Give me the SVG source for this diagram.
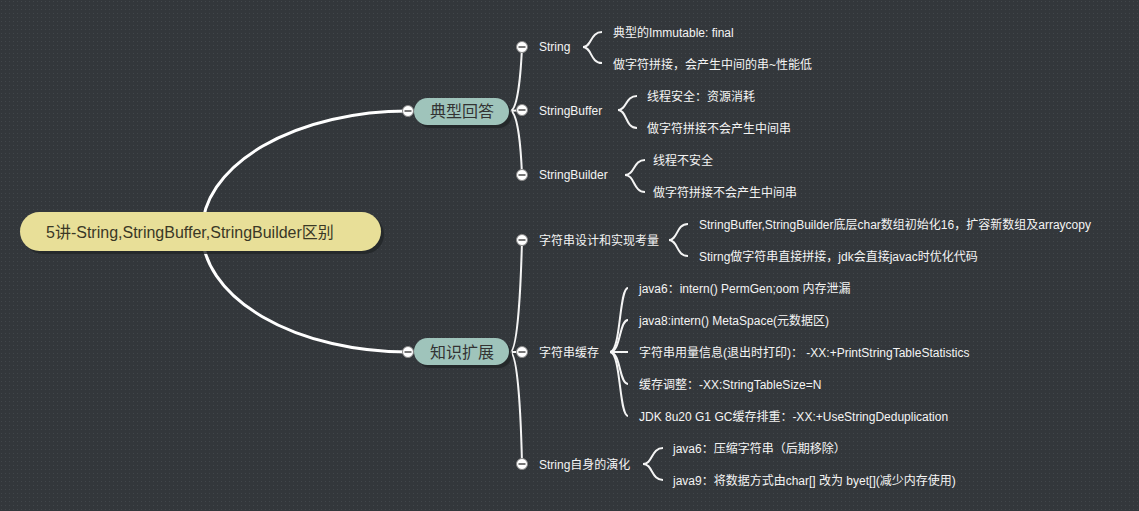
<svg xmlns="http://www.w3.org/2000/svg" width="1139" height="511" viewBox="0 0 1139 511">
<defs>
<pattern id="dots" width="4" height="4" patternUnits="userSpaceOnUse">
<rect width="4" height="4" fill="#33373b"/>
<rect x="1" y="1" width="1" height="1" fill="#41464a"/>
</pattern>
<g id="col">
<circle r="5.5" fill="#ffffff" stroke="#8a8a8a" stroke-width="1"/>
<line x1="-3.5" y1="0" x2="3.5" y2="0" stroke="#555" stroke-width="1.6"/>
</g>
</defs>
<style>
text{font-family:"Liberation Sans","Noto Sans CJK SC",sans-serif;}
.root{font-size:16px;fill:#3a3826;}
.l1{font-size:16px;fill:#333;text-anchor:middle;}
.lb{font-size:12px;fill:#f4f4f4;}
.main{fill:none;stroke:#ffffff;stroke-width:3;}
.br{fill:none;stroke:#f4f4f4;stroke-width:2;}
.sh{fill:#222528;opacity:0.8;}
</style>
<rect width="1139" height="511" fill="url(#dots)"/>

<g id="connectors">
<path class="main" d="M408 111 A206 120.5 0 0 0 202 231.5 A206 120.5 0 0 0 408 352"/>
<path class="br" d="M510 111 C518 111 521 70 522 47"/>
<path class="br" d="M510 111 L522 110"/>
<path class="br" d="M510 111 C518 111 521 150 522 175"/>
<path class="br" d="M510 352 C518 352 521 280 522 240"/>
<path class="br" d="M510 352 L522 352"/>
<path class="br" d="M510 352 C518 352 521 420 522 464"/>
<path class="br" d="M602 32 C590 32 592 47 583 47 C592 47 590 63 602 63"/>
<path class="br" d="M637 96 C625 96 627 110 618 110 C627 110 625 128 637 128"/>
<path class="br" d="M645 160 C633 160 635 175 625 175 C635 175 633 192 645 192"/>
<path class="br" d="M688 224 C676 224 678 240 669 240 C678 240 676 256 688 256"/>
<path class="br" d="M663 448 C651 448 653 464 643 464 C653 464 651 480 663 480"/>
<path class="br" d="M610 352 C621 352 619 288 628 288"/>
<path class="br" d="M610 352 C621 352 619 320 628 320"/>
<path class="br" d="M610 352 L628 352"/>
<path class="br" d="M610 352 C621 352 619 384 628 384"/>
<path class="br" d="M610 352 C621 352 619 416 628 416"/>
</g>

<g id="root">
<rect class="sh" x="23" y="215" width="361" height="39" rx="19.5"/>
<rect x="20" y="212" width="361" height="39" rx="19.5" fill="#e8df98"/>
<text class="root" x="46" y="237.5">5讲-String,StringBuffer,StringBuilder区别</text>
</g>

<g id="n-dianxing">
<rect class="sh" x="417" y="101" width="95" height="27" rx="13.5"/>
<rect x="414" y="98" width="95" height="27" rx="13.5" fill="#9fc4bb"/>
<text class="l1" x="462" y="117">典型回答</text>
<use href="#col" x="408" y="111"/>
</g>

<g id="n-zhishi">
<rect class="sh" x="417" y="341" width="95" height="27" rx="13.5"/>
<rect x="414" y="338" width="95" height="27" rx="13.5" fill="#9fc4bb"/>
<text class="l1" x="462" y="358">知识扩展</text>
<use href="#col" x="408" y="352"/>
</g>

<g id="n-string">
<use href="#col" x="522" y="47"/>
<text class="lb" x="539" y="51">String</text>
<text class="lb" x="613" y="36.5">典型的Immutable: final</text>
<text class="lb" x="613" y="68.5">做字符拼接，会产生中间的串~性能低</text>
</g>

<g id="n-stringbuffer">
<use href="#col" x="522" y="110"/>
<text class="lb" x="539" y="114.5">StringBuffer</text>
<text class="lb" x="647" y="100.5">线程安全：资源消耗</text>
<text class="lb" x="647" y="132.5">做字符拼接不会产生中间串</text>
</g>

<g id="n-stringbuilder">
<use href="#col" x="522" y="175"/>
<text class="lb" x="539" y="179">StringBuilder</text>
<text class="lb" x="653" y="164.5">线程不安全</text>
<text class="lb" x="653" y="196.5">做字符拼接不会产生中间串</text>
</g>

<g id="n-design">
<use href="#col" x="522" y="240"/>
<text class="lb" x="539" y="244.5">字符串设计和实现考量</text>
<text class="lb" x="699" y="228.5">StringBuffer,StringBuilder底层char数组初始化16，扩容新数组及arraycopy</text>
<text class="lb" x="699" y="260.5">Stirng做字符串直接拼接，jdk会直接javac时优化代码</text>
</g>

<g id="n-cache">
<use href="#col" x="522" y="352"/>
<text class="lb" x="539" y="356.5">字符串缓存</text>
<text class="lb" x="639" y="292.5">java6：intern() PermGen;oom 内存泄漏</text>
<text class="lb" x="639" y="324.5">java8:intern() MetaSpace(元数据区)</text>
<text class="lb" x="639" y="356.5">字符串用量信息(退出时打印)： -XX:+PrintStringTableStatistics</text>
<text class="lb" x="639" y="388.5">缓存调整：-XX:StringTableSize=N</text>
<text class="lb" x="639" y="420.5">JDK 8u20 G1 GC缓存排重：-XX:+UseStringDeduplication</text>
</g>

<g id="n-evolve">
<use href="#col" x="522" y="464"/>
<text class="lb" x="539" y="468.5">String自身的演化</text>
<text class="lb" x="673" y="452.5">java6：压缩字符串（后期移除）</text>
<text class="lb" x="673" y="484.5">java9：将数据方式由char[] 改为 byet[](减少内存使用)</text>
</g>
</svg>
